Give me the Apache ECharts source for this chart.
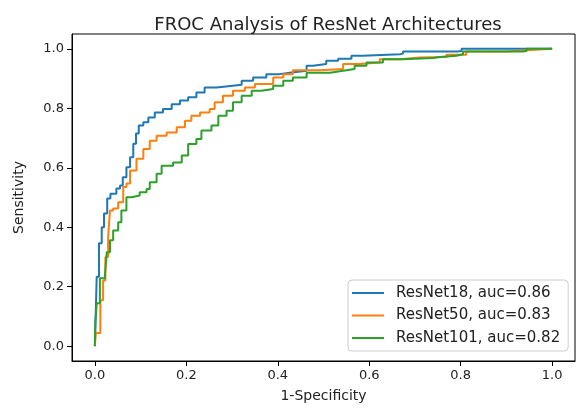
<!DOCTYPE html>
<html>
<head>
<meta charset="utf-8">
<title>FROC Analysis of ResNet Architectures</title>
<script src="https://cdn.jsdelivr.net/npm/echarts@6/dist/echarts.min.js"></script>
<style>
  html, body { margin: 0; padding: 0; background: #fff; }
  #chart { width: 578px; height: 409px; }
</style>
</head>
<body>
<div id="chart"></div>
<script>
// tick labels
const tickValues = [0, 0.2, 0.4, 0.6, 0.8, 1.0]

// ResNet18
const r18X = [0, 0.004, 0.009, 0.015, 0.020, 0.027, 0.034, 0.047, 0.055, 0.061, 0.069, 0.077, 0.084, 0.090, 0.096, 0.106, 0.117, 0.131, 0.149, 0.168, 0.186, 0.204, 0.222, 0.240, 0.266, 0.302, 0.321, 0.346, 0.375, 0.404, 0.426, 0.463, 0.477, 0.506, 0.532, 0.561, 0.586, 0.667, 0.674, 0.793, 0.802, 1.0]
const r18Y = [0, 0.233, 0.346, 0.400, 0.446, 0.497, 0.513, 0.530, 0.540, 0.568, 0.602, 0.635, 0.681, 0.715, 0.742, 0.753, 0.769, 0.786, 0.798, 0.814, 0.826, 0.837, 0.853, 0.870, 0.876, 0.879, 0.893, 0.904, 0.915, 0.920, 0.926, 0.943, 0.949, 0.960, 0.967, 0.977, 0.982, 0.984, 0.991, 0.993, 1.0, 1.0]

// ResNet50
const r50X = [0, 0.002, 0.012, 0.018, 0.023, 0.029, 0.033, 0.040, 0.051, 0.062, 0.069, 0.077, 0.091, 0.106, 0.120, 0.135, 0.157, 0.179, 0.197, 0.211, 0.230, 0.251, 0.262, 0.280, 0.302, 0.328, 0.350, 0.375, 0.390, 0.412, 0.433, 0.463, 0.492, 0.543, 0.579, 0.623, 0.667, 0.710, 0.769, 0.812, 0.842, 0.900, 0.944, 1.0]
const r50Y = [0, 0.044, 0.154, 0.221, 0.300, 0.367, 0.456, 0.463, 0.484, 0.535, 0.547, 0.591, 0.630, 0.663, 0.691, 0.708, 0.719, 0.736, 0.758, 0.775, 0.786, 0.798, 0.820, 0.842, 0.859, 0.870, 0.882, 0.882, 0.904, 0.915, 0.928, 0.928, 0.932, 0.949, 0.954, 0.965, 0.971, 0.973, 0.980, 0.991, 0.991, 0.995, 1.0, 1.0]

// ResNet101
const r101X = [0, 0.001, 0.004, 0.011, 0.022, 0.026, 0.033, 0.040, 0.051, 0.058, 0.069, 0.080, 0.098, 0.113, 0.120, 0.135, 0.146, 0.171, 0.190, 0.204, 0.222, 0.233, 0.255, 0.270, 0.288, 0.302, 0.321, 0.343, 0.364, 0.390, 0.412, 0.433, 0.463, 0.514, 0.543, 0.568, 0.594, 0.630, 0.674, 0.739, 0.754, 0.791, 0.805, 0.885, 0.936, 0.944, 1.0]
const r101Y = [0, 0.077, 0.144, 0.228, 0.238, 0.316, 0.356, 0.389, 0.417, 0.456, 0.501, 0.507, 0.518, 0.529, 0.551, 0.580, 0.607, 0.618, 0.641, 0.680, 0.697, 0.725, 0.742, 0.775, 0.792, 0.820, 0.842, 0.859, 0.865, 0.876, 0.893, 0.904, 0.920, 0.926, 0.932, 0.943, 0.954, 0.965, 0.969, 0.973, 0.977, 0.982, 0.991, 0.991, 0.993, 1.0, 1.0]

const names = ['ResNet18, auc=0.86', 'ResNet50, auc=0.83', 'ResNet101, auc=0.82']
const colors = ['#1f77b4', '#ff7f0e', '#2ca02c']

const font = 'DejaVu Sans'
const zip = (xs, ys) => xs.map((x, i) => [x, ys[i]])

const chart = echarts.init(document.getElementById('chart'))

const axisCommon = {
  type: 'value',
  min: -0.05,
  max: 1.05,
  axisLine: { show: true, onZero: false, lineStyle: { color: '#000', width: 1 } },
  axisTick: {
    show: true,
    length: 5,
    customValues: tickValues,
    lineStyle: { color: '#000' }
  },
  axisLabel: {
    customValues: tickValues,
    color: '#222',
    fontSize: 13,
    fontFamily: font,
    formatter: (v) => v.toFixed(1)
  },
  splitLine: { show: false },
  nameLocation: 'middle',
  nameTextStyle: { color: '#222', fontSize: 14, fontFamily: font }
}

const option = {
  animation: false,
  backgroundColor: '#fff',
  title: {
    text: 'FROC Analysis of ResNet Architectures',
    left: 323,
    textAlign: 'center',
    top: 11,
    textStyle: { color: '#222', fontSize: 18, fontWeight: 'normal', fontFamily: font }
  },
  grid: {
    left: 72,
    top: 34,
    width: 503,
    height: 327,
    show: true,
    borderColor: '#000',
    borderWidth: 1,
    containLabel: false
  },
  xAxis: Object.assign({}, axisCommon, { name: '1-Specificity', nameGap: 28 }),
  yAxis: Object.assign({}, axisCommon, { name: 'Sensitivity', nameGap: 46 }),
  legend: {
    orient: 'vertical',
    left: 348,
    top: 280,
    padding: [5, 8, 5, 4],
    itemGap: 6.5,
    itemWidth: 32,
    itemHeight: 2,
    icon: 'rect',
    borderColor: '#ccc',
    borderWidth: 1,
    borderRadius: 4,
    backgroundColor: 'rgba(255,255,255,0.85)',
    textStyle: { color: '#222', fontSize: 15, fontFamily: font, lineHeight: 16, padding: [0, 0, 0, 7] },
    data: names
  },
  series: [
    { name: names[0], type: 'line', step: 'end', showSymbol: false, data: zip(r18X, r18Y), color: colors[0], lineStyle: { width: 2 } },
    { name: names[1], type: 'line', step: 'end', showSymbol: false, data: zip(r50X, r50Y), color: colors[1], lineStyle: { width: 2 } },
    { name: names[2], type: 'line', step: 'end', showSymbol: false, data: zip(r101X, r101Y), color: colors[2], lineStyle: { width: 2 } }
  ]
}

chart.setOption(option)
</script>
</body>
</html>
